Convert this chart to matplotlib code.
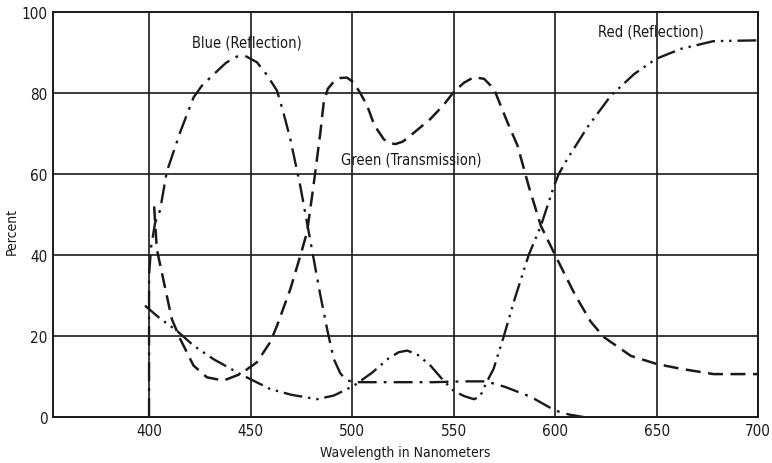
import numpy as np
import matplotlib.pyplot as plt

# curves (wavelength nm, percent)
blue_x = [400, 400, 401, 403, 405.4, 408.7, 415.3, 421.9, 426, 431.6, 438, 443.3, 448, 453.1,
          458, 463, 466, 469.6, 474.5, 477.8, 484.4, 488, 491, 494.2, 497, 500.6, 520, 540, 555,
          566, 575, 588, 600, 607, 614]
blue_y = [0, 35, 42, 48, 51, 60.5, 70.3, 78.9, 81.8, 84.5, 87.5, 89, 89, 87.6,
          84.5, 80.6, 75.5, 68.6, 57, 48, 30, 21, 14.3, 10.8, 9.2, 8.6, 8.6, 8.6, 8.8,
          8.8, 7.5, 5, 1.6, 0.6, 0]

green_x = [402.5, 403.8, 407, 411.2, 415.3, 421.9, 428.5, 436.7, 444.9, 453.1, 459.7, 463,
           469.6, 474.5, 477.8, 481, 484.4, 486, 488, 491, 494.2, 497.5, 500.8, 504, 507.4,
           511, 515.6, 518.5, 521.4, 525, 530, 538.6, 545, 550, 555, 560, 565, 569.9,
           576.5, 581.5, 587, 593, 600, 610, 617.6, 624.1, 637.3, 650, 662, 678, 700]
green_y = [52, 41.5, 34, 24.2, 19.3, 12.7, 9.8, 9, 10.6, 13.5, 18.5, 22.5,
           31.6, 39.8, 45.6, 57.1, 70.3, 77.5, 81, 82.8, 83.7, 83.8, 82.6, 80, 76.9,
           72, 68.6, 67.6, 67.4, 68, 70, 73.6, 77, 80.2, 82.5, 83.9, 83.5, 81,
           72.8, 67, 57, 47.2, 40, 30, 23.5, 19.7, 15.1, 13.1, 11.9, 10.6, 10.6]

red_x = [398, 405, 413.7, 422, 431.7, 444.9, 459.7, 470, 482.7, 491, 500.8, 510, 518, 523,
         527.1, 532, 538.6, 545, 550, 555, 560, 563, 565.8, 569.7, 574.6, 580, 587, 593,
         599.3, 601.8, 606, 616, 627.4, 639, 649.6, 662, 678, 700]
red_y = [27.5, 24.5, 21.3, 17.6, 14.3, 10.6, 6.9, 5.5, 4.4, 5.3, 7.7, 11, 14.5, 16,
         16.4, 15.5, 12.7, 9, 6.5, 5.2, 4.4, 5, 8.1, 11.9, 19.7, 29, 40, 47.2,
         56.8, 60, 63.7, 71.6, 79.3, 84.7, 88.4, 90.9, 92.8, 93]

x_ticks = [400, 450, 500, 550, 600, 650, 700]
y_ticks = [0, 20, 40, 60, 80, 100]

plt.rcParams['font.family'] = ['DejaVu Sans']
plt.rcParams['font.stretch'] = 'condensed'
ink = '#1a1a1a'

fig = plt.figure(figsize=(7.72, 4.64), dpi=100)
ax = fig.add_axes([0.0687, 0.0991, 0.9133, 0.8729])

ax.plot(blue_x, blue_y, color=ink, lw=1.7, ls=(0, (8, 3, 1.2, 3)))
ax.plot(green_x, green_y, color=ink, lw=1.8, ls=(0, (6, 3)))
ax.plot(red_x, red_y, color=ink, lw=1.7, ls=(0, (8, 2.5, 1, 2.5, 1, 2.5)))

ax.text(448, 92.6, 'Blue (Reflection)', ha='center', va='center', fontsize=10.5, color=ink)
ax.text(529, 63.7, 'Green (Transmission)', ha='center', va='center', fontsize=10.5, color=ink)
ax.text(647, 95.3, 'Red (Reflection)', ha='center', va='center', fontsize=10.5, color=ink)

ax.set_xlim(352.7, 700)
ax.set_ylim(0, 100)
ax.set_xticks(x_ticks)
ax.set_yticks(y_ticks)
ax.tick_params(length=0, labelsize=11, colors=ink, pad=4)
ax.grid(True, color=ink, lw=1.2)
for s in ax.spines.values():
    s.set_color(ink)
    s.set_linewidth(1.4)

ax.set_xlabel('Wavelength in Nanometers', fontsize=10, color=ink, labelpad=5)
ax.set_ylabel('Percent', fontsize=10, color=ink)
ax.yaxis.set_label_coords(-0.048, 0.46)

fig.savefig('out.png', dpi=100)
